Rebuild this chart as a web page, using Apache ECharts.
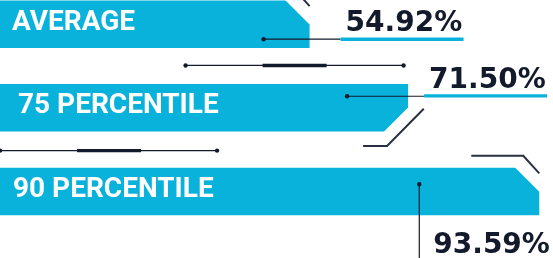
<!DOCTYPE html>
<html>
<head>
<meta charset="utf-8">
<script src="https://cdn.jsdelivr.net/npm/echarts@6/dist/echarts.min.js"></script>
<style>
  html, body { margin: 0; padding: 0; background: #fff; }
  #barChartDom { width: 553px; height: 258px; }
</style>
</head>
<body>
<div id="barChartDom"></div>
<script>
// data
const categories = ["AVERAGE", "75 PERCENTILE", "90 PERCENTILE"];
const values = [54.92, 71.5, 93.59];

const xMin = 2.8;
const xMax = 95.9;
const yMin = -0.2893;
const yMax = 2.795;
const CYAN = "#09b2db";
const NAVY = "#131a2c";

function line(x1, y1, x2, y2, w, color) {
  return {
    type: "line",
    shape: { x1: x1, y1: y1, x2: x2, y2: y2 },
    style: { stroke: color || NAVY, lineWidth: w || 1.2 },
  };
}
function dot(x, y) {
  return { type: "circle", shape: { cx: x, cy: y, r: 2.2 }, style: { fill: NAVY } };
}
function valueText(x, y, v) {
  return {
    type: "text",
    x: x,
    y: y + 1.5,
    style: {
      text: v.toFixed(2) + "%",
      fill: NAVY,
      fontSize: 28,
      fontWeight: "bold",
      fontFamily: "DejaVu Sans",
      verticalAlign: "middle",
    },
  };
}
function underline(x, y) {
  return { type: "rect", shape: { x: x, y: y - 1.7, width: 123, height: 3.4 }, style: { fill: CYAN } };
}
function corner(points) {
  return { type: "polyline", shape: { points: points }, style: { stroke: "#2a3042", lineWidth: 2, fill: null } };
}
// decorative rule with thick middle part and dots on the ends
function rule(xa, xb, ta, tb, y) {
  return [
    line(xa, y, xb, y, 1.2, NAVY),
    line(ta, y, tb, y, 3.4, NAVY),
    dot(xa, y),
    dot(xb, y),
  ];
}

function renderBar(params, api) {
  const i = params.dataIndex;
  const v = api.value(0);
  const end = api.coord([v, i]);
  const x0 = api.coord([xMin, i])[0];
  const xR = end[0];
  const yc = end[1];
  const h = 47.5;
  const c = 24;
  const yT = yc - h / 2;
  const yB = yc + h / 2;
  let children = [];

  let points;
  if (i === 1) {
    points = [[x0, yT], [xR, yT], [xR, yB - c], [xR - c, yB], [x0, yB]];
  } else {
    points = [[x0, yT], [xR - c, yT], [xR, yT + c], [xR, yB], [x0, yB]];
  }
  children.push({ type: "polygon", shape: { points: points }, style: { fill: CYAN } });

  const pad = [12, 18, 13][i];
  children.push({
    type: "text",
    x: x0 + pad,
    y: yc - 1.5,
    style: {
      text: categories[i],
      fill: "#fff",
      fontSize: 28,
      fontWeight: "bold",
      fontFamily: "Roboto",
      verticalAlign: "middle",
    },
  });

  if (i === 0) {
    children.push(corner([[xR - 68, yT - 12], [xR - 16, yT - 12], [xR, yT + 5.6]]));
    children.push(line(xR - 46, yc + 15, xR + 31, yc + 15));
    children.push(dot(xR - 46, yc + 15));
    children.push(underline(xR + 31, yc + 15));
    children.push(valueText(xR + 36, yc - 2, v));
    children = children.concat(rule(xR - 124, xR + 94, xR - 47, xR + 17, yB + 17.5));
  } else if (i === 1) {
    children.push(corner([[xR - 45, yB + 14.4], [xR - 21, yB + 14.4], [xR + 15.7, yT + 24.7]]));
    children.push(line(xR - 61, yc - 11.6, xR + 16, yc - 11.6));
    children.push(dot(xR - 61, yc - 11.6));
    children.push(underline(xR + 16, yc - 12));
    children.push(valueText(xR + 21, yc - 29, v));
    children = children.concat(rule(xR - 408, xR - 191, xR - 331, xR - 267, yB + 19));
  } else {
    children.push(corner([[xR - 68, yT - 12], [xR - 16, yT - 12], [xR, yT + 5.6]]));
    children.push(line(xR - 120, yc - 7.2, xR - 120, yc + 80));
    children.push(dot(xR - 120, yc - 7.2));
    children.push(valueText(xR - 106, yc + 52.8, v));
  }

  return { type: "group", children: children };
}

const myChart = echarts.init(document.getElementById("barChartDom"));
const option = {
  animation: false,
  grid: { left: 0, right: 0, top: 0, bottom: 0 },
  xAxis: { type: "value", min: xMin, max: xMax, show: false },
  yAxis: { type: "value", min: yMin, max: yMax, inverse: true, show: false },
  series: [
    {
      type: "custom",
      renderItem: renderBar,
      clip: false,
      encode: { x: 0, y: 1 },
      data: values.map((v, i) => [v, i]),
    },
  ],
};
option && myChart.setOption(option);
</script>
</body>
</html>
